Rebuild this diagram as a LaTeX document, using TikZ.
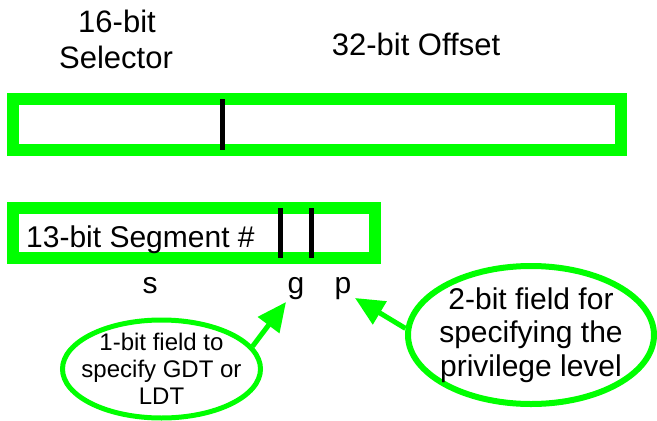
\documentclass[tikz,border=0pt]{standalone}
\usepackage{fontspec}
\setmainfont{Liberation Sans}
\usetikzlibrary{shapes.geometric,arrows.meta}
\definecolor{lime}{RGB}{0,255,0}
\tikzset{
  fieldbox/.style={draw=lime,line width=12pt},
  divider/.style={draw=black,line width=5pt},
  bigtext/.style={font=\fontsize{30}{34}\selectfont,inner sep=0pt},
  titletext/.style={font=\fontsize{31}{36}\selectfont,inner sep=0pt},
  callout/.style={ellipse,draw=lime,inner sep=0pt},
  callouttext/.style={inner sep=0pt,align=center},
  pointer/.style={draw=lime,line width=5pt,-{Triangle[length=29pt,width=26pt]}}
}
\begin{document}
\begin{tikzpicture}[x=1pt,y=-1pt]
\useasboundingbox (0,0) rectangle (657,421);
% titles
\node[titletext,anchor=base] (sel1) at (117,32) {16-bit};
\node[titletext,anchor=base] (sel2) at (116,68) {Selector};
\node[titletext,anchor=base] (off) at (416,55) {32-bit Offset};
% top pointer box
\draw[fieldbox] (13,99) rectangle (621,150);
\draw[divider] (222,99) -- (222,150);
% selector box
\draw[fieldbox] (13,208) rectangle (375,258);
\draw[divider] (280,208) -- (280,258);
\draw[divider] (311,208) -- (311,258);
\node[bigtext,anchor=base west] (seg) at (26,247) {13-bit Segment \#};
% letters
\node[bigtext,anchor=base] (s) at (150,293) {s};
\node[bigtext,anchor=base] (g) at (296,293) {g};
\node[bigtext,anchor=base] (p) at (343,293) {p};
% callouts
\node[callout,line width=5pt,minimum width=198pt,minimum height=98pt] (lell) at (161.5,369) {};
\node[callouttext,font=\fontsize{24}{27}\selectfont] (ltext) at (lell.center)
      {1-bit field to\\specify GDT or\\LDT};
\node[callout,line width=6pt,minimum width=246pt,minimum height=138pt] (rell) at (531,335) {};
\node[callouttext,font=\fontsize{30}{33.5}\selectfont] (rtext) at (rell.center)
      {2-bit field for\\specifying the\\privilege level};
\coordinate (gtip) at (286,302);
\coordinate (ptip) at (355,298);
\draw[pointer] (lell.14) -- (gtip);
\draw[pointer] (rell.177) -- (ptip);
\end{tikzpicture}
\end{document}
